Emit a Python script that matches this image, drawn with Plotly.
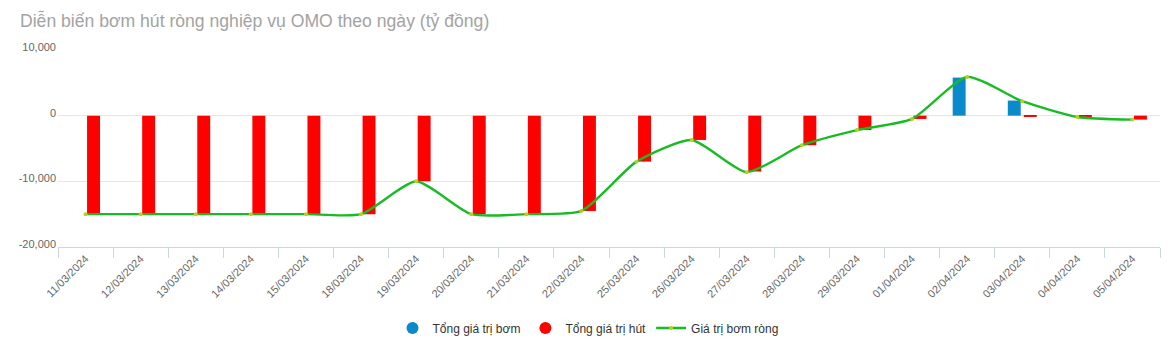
import plotly.graph_objects as go

dates = ["11/03/2024", "12/03/2024", "13/03/2024", "14/03/2024", "15/03/2024",
         "18/03/2024", "19/03/2024", "20/03/2024", "21/03/2024", "22/03/2024",
         "25/03/2024", "26/03/2024", "27/03/2024", "28/03/2024", "29/03/2024",
         "01/04/2024", "02/04/2024", "03/04/2024", "04/04/2024", "05/04/2024"]
bom = [0, 0, 0, 0, 0, 0, 0, 0, 0, 0,
       0, 0, 0, 0, 0, 0, 5800, 2300, 0, 0]
hut = [-15000, -15000, -15000, -15000, -15000, -15000, -10000, -15000, -15000, -14500,
       -7000, -3700, -8500, -4500, -2200, -500, 0, -100, -150, -600]
rong = [-15000, -15000, -15000, -15000, -15000, -15000, -10000, -15000, -15000, -14500,
        -7000, -3700, -8600, -4500, -2200, -500, 5900, 2200, -200, -600]
ytick_vals = [10000, 0, -10000, -20000]
ytick_text = ["10,000", "0", "-10,000", "-20,000"]

BLUE = "#0a8acb"
RED = "#ff0000"
GREEN = "#19bb24"

fig = go.Figure()
fig.add_trace(go.Bar(x=dates, y=bom, marker_color=BLUE, name="Tổng giá trị bơm",
                     showlegend=False, marker_line_width=0))
fig.add_trace(go.Bar(x=dates, y=hut, marker_color=RED, name="Tổng giá trị hút",
                     showlegend=False, marker_line_width=0))
fig.add_trace(go.Scatter(x=dates, y=rong, mode="lines+markers", name="Giá trị bơm ròng",
                         line=dict(color=GREEN, width=2.4, shape="spline", smoothing=0.6),
                         marker=dict(color="#b8d020", size=4), showlegend=False))
# legend entries
fig.add_trace(go.Scatter(x=[None], y=[None], mode="markers", name="Tổng giá trị bơm",
                         marker=dict(color=BLUE, size=12, symbol="circle")))
fig.add_trace(go.Scatter(x=[None], y=[None], mode="markers", name="Tổng giá trị hút",
                         marker=dict(color=RED, size=12, symbol="circle")))
fig.add_trace(go.Scatter(x=[None], y=[None], mode="lines+markers", name="Giá trị bơm ròng",
                         line=dict(color=GREEN, width=2.4),
                         marker=dict(color="#b8d020", size=4)))

fig.update_layout(
    width=1176, height=347,
    margin=dict(l=58, r=16, t=50, b=100, autoexpand=False),
    paper_bgcolor="white", plot_bgcolor="white",
    font=dict(family="Liberation Sans, Arial, sans-serif", color="#666666"),
    title=dict(text="Diễn biến bơm hút ròng nghiệp vụ OMO theo ngày (tỷ đồng)",
               x=20/1176, xanchor="left", y=1 - 21/347, yanchor="middle",
               font=dict(size=17.6, color="#a3a3a3")),
    barmode="group", bargap=0.42, bargroupgap=0.19,
    legend=dict(orientation="h", x=0.5, xanchor="center", xref="container",
                y=1 - 328/347, yref="container", yanchor="middle",
                font=dict(size=12, color="#333333"), itemwidth=30),
)
fig.update_xaxes(type="category", range=[-0.5, 19.5], tickangle=-45, tickson="boundaries",
                 ticks="outside", ticklen=10, tickcolor="#ccd6eb",
                 showline=True, linecolor="#ccd6eb", linewidth=1,
                 showgrid=False, tickfont=dict(size=11, color="#666666"))
fig.update_yaxes(range=[-20000, 10000], tickvals=ytick_vals, ticktext=ytick_text,
                 showgrid=True, gridcolor="#e6e6e6", gridwidth=1,
                 zeroline=False, showline=False, ticks="",
                 tickfont=dict(size=11, color="#666666"), ticklabelshift=-3,
                 ticklabelstandoff=1)
fig.write_html("out.html")
